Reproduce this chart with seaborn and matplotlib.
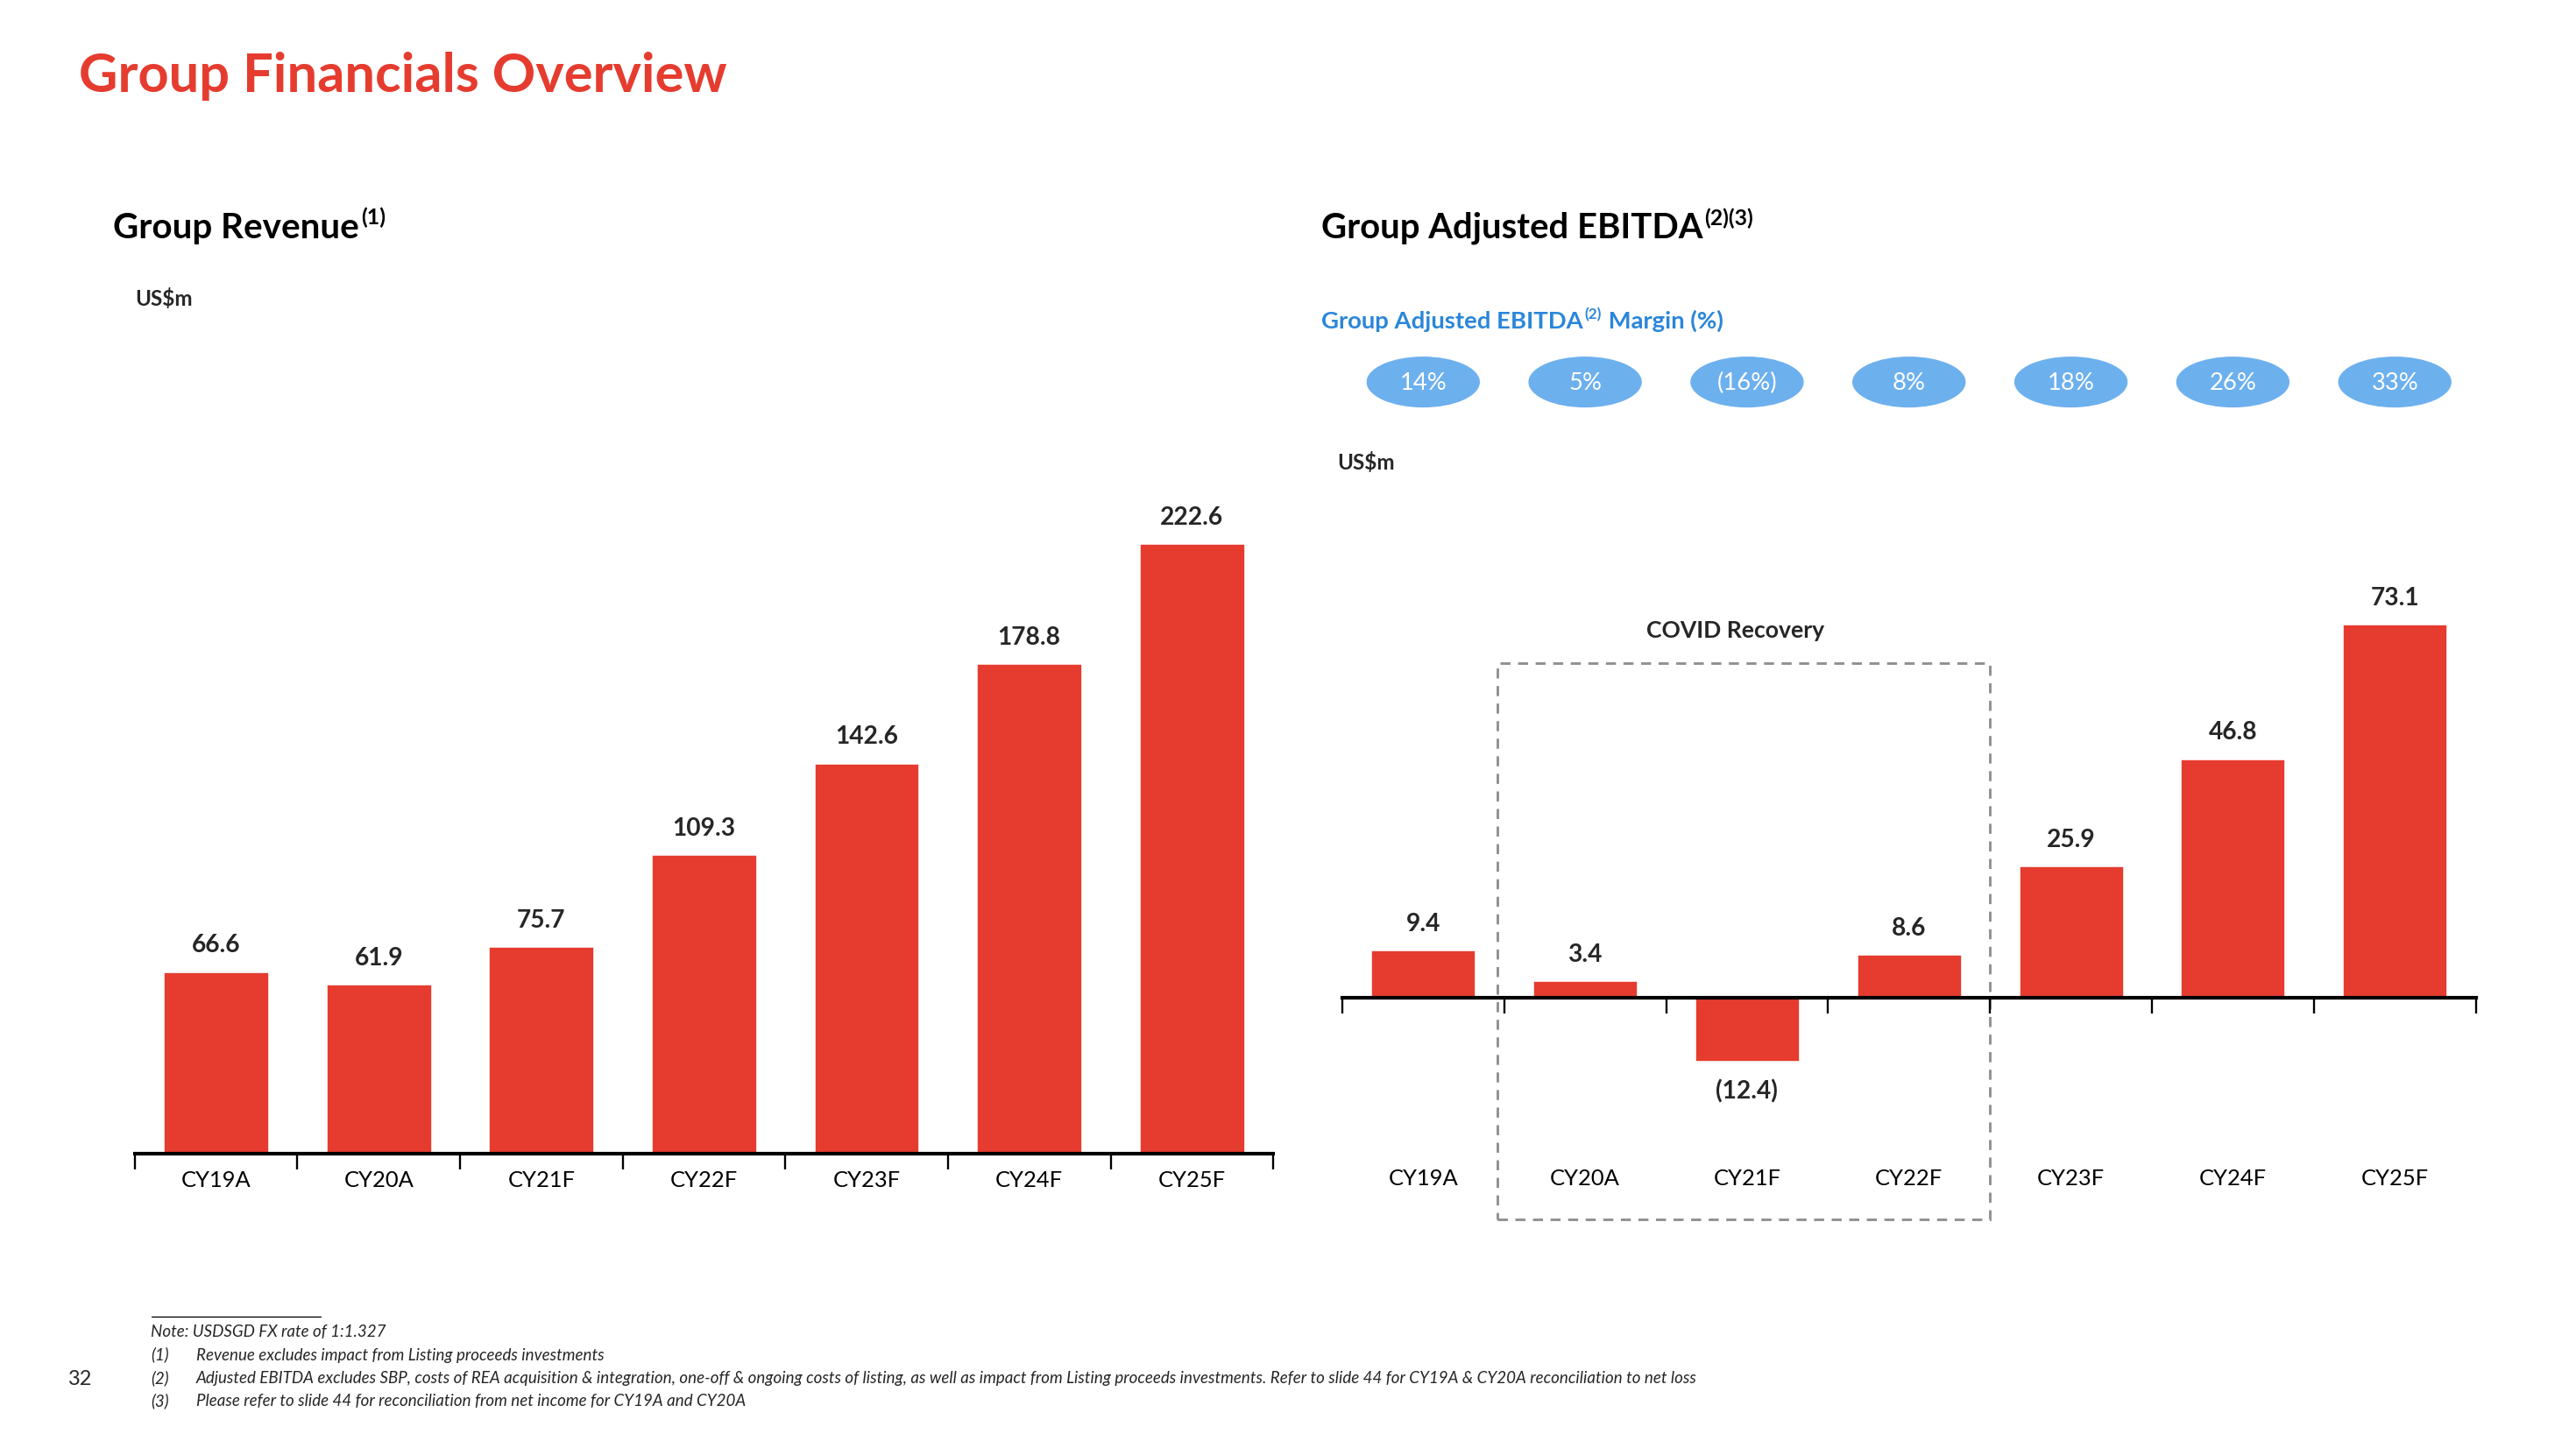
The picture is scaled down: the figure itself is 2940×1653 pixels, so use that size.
import matplotlib
matplotlib.use("Agg")
import matplotlib.pyplot as plt
import matplotlib.transforms as mtransforms
from matplotlib.patches import Ellipse, Rectangle
from matplotlib.lines import Line2D
import seaborn as sns
import pandas as pd
import numpy as np

# ---------------- data ----------------
years = ["CY19A", "CY20A", "CY21F", "CY22F", "CY23F", "CY24F", "CY25F"]
revenue = [66.6, 61.9, 75.7, 109.3, 142.6, 178.8, 222.6]
ebitda = [9.4, 3.4, -12.4, 8.6, 25.9, 46.8, 73.1]
margin_labels = ["14%", "5%", "(16%)", "8%", "18%", "26%", "33%"]

title = "Group Financials Overview"
footnotes = [
    "Revenue excludes impact from Listing proceeds investments",
    "Adjusted EBITDA excludes SBP, costs of REA acquisition & integration, one-off & ongoing costs of listing, as well as impact from Listing proceeds investments. Refer to slide 44 for CY19A & CY20A reconciliation to net loss",
    "Please refer to slide 44 for reconciliation from net income for CY19A and CY20A",
]

RED = "#E53C2F"
BLUE_FILL = "#6DB0EE"
BLUE_TEXT = "#2B86D9"
GREY = "#8F8F8F"

sns.set_theme(style="white")
plt.rcParams["font.family"] = ["Lato", "DejaVu Sans"]

W, H = 1568.0, 882.0  # layout grid (reference preview pixels)
fig = plt.figure(figsize=(15.68, 8.82), dpi=187.5)
renderer = fig.canvas.get_renderer()
SCALE = 1.875  # output px per grid px


def fx(x):
    return x / W


def fy(y):
    return 1 - y / H


def fit(t, target):
    """scale font so that text width equals target grid px"""
    w = t.get_window_extent(renderer).width / SCALE
    t.set_fontsize(t.get_fontsize() * target / w)
    return t


def text_sup(x, y, main, sup, size, color, weight, width=None, supscale=0.62):
    t = fig.text(fx(x), fy(y), main, fontsize=size, color=color,
                 fontweight=weight, ha="left", va="baseline")
    if width is not None:
        fit(t, width)
    bb = t.get_window_extent(renderer)
    fs = t.get_fontsize()
    s = fig.text(bb.x1 / fig.bbox.width + 0.0008, fy(y) + fs * 0.38 / 72 / 8.82,
                 sup, fontsize=fs * supscale, color=color, fontweight=weight,
                 ha="left", va="baseline")
    return t, s


# ---------------- titles ----------------
t = fig.text(fx(48), fy(56), title, fontsize=24, color=RED, fontweight="bold",
             ha="left", va="baseline")
fit(t, 394)

text_sup(69, 145, "Group Revenue", "(1)", 15, "black", "bold", width=150)
text_sup(804, 145, "Group Adjusted EBITDA", "(2)(3)", 15, "black", "bold", width=232)

tm, ts = text_sup(804, 200, "Group Adjusted EBITDA", "(2)", 10, BLUE_TEXT, "bold", width=160)
bb = ts.get_window_extent(renderer)
fig.text(bb.x1 / fig.bbox.width + 0.0004, fy(200), " Margin (%)", fontsize=tm.get_fontsize(),
         color=BLUE_TEXT, fontweight="bold", ha="left", va="baseline")

fig.text(fx(82), fy(186), "US$m", fontsize=9.3, fontweight="bold", ha="left", va="baseline")
fig.text(fx(814), fy(286), "US$m", fontsize=9.3, fontweight="bold", ha="left", va="baseline")

# ---------------- left chart: revenue ----------------
ax1 = fig.add_axes([fx(82), fy(703), (775 - 82) / W, 418 / H])
df_rev = pd.DataFrame({"year": years, "value": revenue})
sns.barplot(data=df_rev, x="year", y="value", ax=ax1, color=RED, saturation=1,
            width=0.65, errorbar=None)
ax1.set_ylim(0, 418 * 222.6 / 372)

# ---------------- right chart: EBITDA ----------------
ax2 = fig.add_axes([fx(817), fy(748), (1507 - 817) / W, 405 / H])
df_eb = pd.DataFrame({"year": years, "value": ebitda})
sns.barplot(data=df_eb, x="year", y="value", ax=ax2, color=RED, saturation=1,
            width=0.65, errorbar=None)
k = 228 / 73.1
ax2.set_ylim(-140 / k, 265 / k)
ax2.spines["bottom"].set_position(("data", 0))

for ax, pad in ((ax1, 7), (ax2, 74.5)):
    ax.set_xlim(-0.5, len(years) - 0.5)
    ax.set_xlabel("")
    ax.set_ylabel("")
    ax.set_yticks([])
    for s in ("top", "left", "right"):
        ax.spines[s].set_visible(False)
    ax.spines["bottom"].set_color("black")
    ax.spines["bottom"].set_linewidth(1.6)
    ax.spines["bottom"].set_zorder(5)
    ax.set_xticks(np.arange(-0.5, len(years), 1.0))
    ax.set_xticklabels([])
    ax.set_xticks(np.arange(len(years)), minor=True)
    ax.set_xticklabels(years, minor=True)
    ax.tick_params(axis="x", which="major", direction="out", length=7, width=0.9,
                   color="black", bottom=True)
    ax.tick_params(axis="x", which="minor", length=0, pad=pad, labelsize=9.8,
                   labelcolor="black", bottom=True)
    ax.patch.set_alpha(0)

# value labels
for i, v in enumerate(revenue):
    ax1.annotate(f"{v:.1f}", (i, v), xytext=(0, 11.5), textcoords="offset points",
                 ha="center", va="center", fontsize=10.8, fontweight="bold")
for i, v in enumerate(ebitda):
    lab = f"{v:.1f}" if v >= 0 else f"({abs(v):.1f})"
    off = 11.5 if v >= 0 else -13
    ax2.annotate(lab, (i, v), xytext=(0, off), textcoords="offset points",
                 ha="center", va="center", fontsize=10.8, fontweight="bold")

# margin bubbles (x in data, y in figure)
trans = mtransforms.blended_transform_factory(ax2.transData, fig.transFigure)
for i, m in enumerate(margin_labels):
    e = Ellipse((i, fy(233)), 0.70, 31 / H, transform=trans, facecolor=BLUE_FILL,
                edgecolor="none", clip_on=False)
    fig.add_artist(e)
    fig.text(i, fy(233.5), m, transform=trans, ha="center", va="center",
             color="white", fontsize=10.5)

# COVID recovery box
box_top = (608 - 404) / k
box_bot = (608 - 743) / k
rect = Rectangle((0.46, box_bot), 3.5 - 0.46, box_top - box_bot, transform=ax2.transData,
                 fill=False, edgecolor=GREY, linewidth=1.1, linestyle=(0, (4, 3)),
                 clip_on=False, zorder=0)
ax2.add_patch(rect)
ax2.text(1.93, (608 - 384) / k, "COVID Recovery", ha="center", va="center",
         fontsize=10.2, fontweight="bold")

# ---------------- footnotes ----------------
probe = fig.text(fx(119.5), fy(842), footnotes[1], fontsize=6.2, style="italic",
                 ha="left", va="baseline")
fit(probe, 916)
fsz = probe.get_fontsize()
probe.remove()

fig.add_artist(Line2D([fx(92), fx(195)], [fy(802), fy(802)], color="black", lw=0.5))
fig.text(fx(92), fy(814), "Note: USDSGD FX rate of 1:1.327", fontsize=fsz, style="italic",
         ha="left", va="baseline")
for j, (txt, yb) in enumerate(zip(footnotes, (828, 842, 856))):
    fig.text(fx(92), fy(yb), f"({j + 1})", fontsize=fsz, style="italic", ha="left", va="baseline")
    fig.text(fx(119.5), fy(yb), txt, fontsize=fsz, style="italic", ha="left", va="baseline")
fig.text(fx(41), fy(843), "32", fontsize=9, ha="left", va="baseline")

fig.savefig("out.png", dpi=187.5, facecolor="white")
